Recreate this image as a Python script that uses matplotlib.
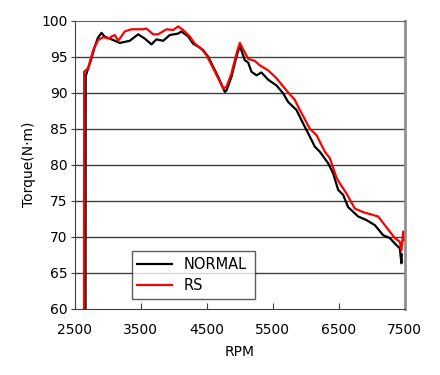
import matplotlib.pyplot as plt

rpm_normal = [2662, 2665, 2700, 2750, 2800, 2850, 2905, 2950, 3030, 3081, 3182, 3333, 3460,
              3561, 3662, 3737, 3838, 3939, 4066, 4116, 4217, 4292, 4368, 4444, 4520, 4596,
              4672, 4773, 4798, 4874, 4949, 5000, 5076, 5126, 5177, 5253, 5328, 5429, 5556,
              5657, 5732, 5858, 5960, 6061, 6136, 6212, 6338, 6414, 6490, 6566, 6641, 6793,
              6919, 7045, 7172, 7273, 7374, 7424, 7449, 7455]
torque_normal = [50, 92.3, 93.3, 94.7, 96.3, 97.6, 98.3, 97.8, 97.5, 97.3, 96.9, 97.2, 98.1,
                 97.5, 96.7, 97.4, 97.2, 98.0, 98.2, 98.5, 97.8, 96.8, 96.4, 95.9, 95.0, 93.6,
                 92.2, 90.1, 90.3, 92.2, 95.0, 96.5, 94.5, 94.2, 92.9, 92.4, 92.8, 91.8, 91.0,
                 89.9, 88.7, 87.6, 85.7, 83.9, 82.5, 81.8, 80.2, 78.8, 76.5, 75.8, 74.1, 72.8,
                 72.3, 71.6, 70.2, 69.8, 68.8, 68.4, 66.3, 67.5]

rpm_rs = [2638, 2641, 2702, 2778, 2854, 2929, 3030, 3056, 3106, 3157, 3258, 3359, 3535,
          3586, 3687, 3763, 3889, 3990, 4066, 4141, 4242, 4318, 4419, 4495, 4596, 4672,
          4747, 4798, 4874, 4949, 5000, 5126, 5227, 5303, 5429, 5556, 5707, 5833, 5909,
          6061, 6162, 6288, 6364, 6465, 6515, 6616, 6742, 6869, 7020, 7096, 7197, 7298,
          7348, 7424, 7449, 7475, 7478]
torque_rs = [50, 92.9, 93.4, 95.9, 97.3, 97.7, 97.5, 97.8, 98.0, 97.2, 98.5, 98.8, 98.8,
             98.9, 98.1, 98.1, 98.8, 98.7, 99.2, 98.7, 97.8, 96.8, 96.1, 95.2, 93.4, 92.0,
             90.6, 90.8, 92.7, 95.4, 96.9, 94.7, 94.4, 93.8, 93.1, 92.0, 90.3, 89.0, 87.6,
             85.0, 84.1, 81.8, 80.9, 78.2, 77.4, 76.0, 73.9, 73.4, 73.0, 72.8, 71.6, 70.4,
             69.8, 69.3, 68.1, 70.7, 69.5]

yticks = [60, 65, 70, 75, 80, 85, 90, 95, 100]
xticks = [2500, 3500, 4500, 5500, 6500, 7500]

fig = plt.figure(figsize=(4.4, 3.75), dpi=100)
ax = fig.add_axes([0.170, 0.177, 0.750, 0.768])

for y in yticks[1:-1]:
    ax.axhline(y, color='#404040', linewidth=1.0, zorder=1)

ax.plot(rpm_normal, torque_normal, color='black', linewidth=1.6, label='NORMAL', zorder=3)
ax.plot(rpm_rs, torque_rs, color='#ff0000', linewidth=1.6, label='RS', zorder=4)

ax.set_xlim(2500, 7500)
ax.set_ylim(60, 100)
ax.set_xticks(xticks)
ax.set_yticks(yticks)
ax.tick_params(axis='x', direction='in', length=4, labelsize=10, pad=10, color='#404040')
ax.tick_params(axis='y', direction='out', length=3, labelsize=10, pad=2, color='#404040')

ax.spines['left'].set_color('#404040')
ax.spines['bottom'].set_color('#404040')
ax.spines['top'].set_color('#606060')
ax.spines['right'].set_color('#909090')
ax.spines['right'].set_linewidth(2.0)

ax.set_xlabel('RPM', fontsize=10)
ax.set_ylabel('Torque(N·m)', fontsize=10, labelpad=4)
ax.xaxis.set_label_coords(0.50, -0.125)

leg = ax.legend(loc='lower left', bbox_to_anchor=(0.172, 0.035, 0.373, 0.162), mode='expand',
                fontsize=10.5, frameon=True, fancybox=False, edgecolor='#333333',
                handlelength=2.4, borderaxespad=0, labelspacing=0.4, borderpad=0.4)
leg.get_frame().set_linewidth(1.0)

fig.savefig('out.png', dpi=100)
